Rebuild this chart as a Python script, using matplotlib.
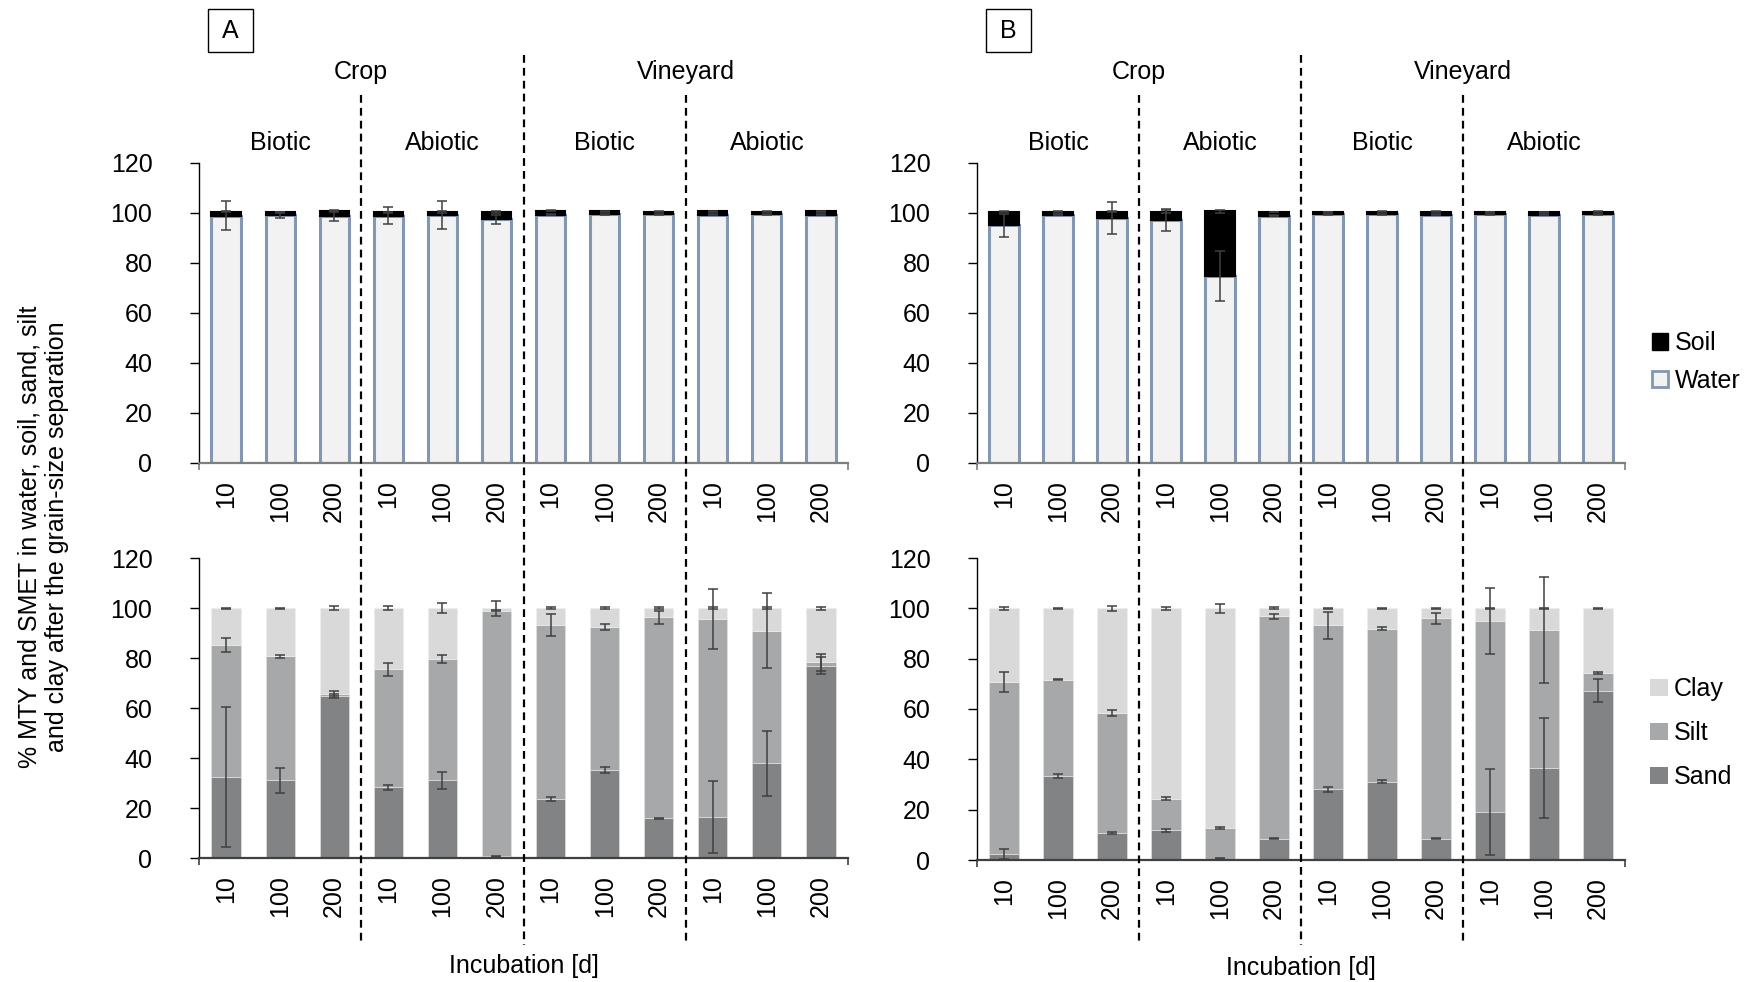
import numpy as np
import matplotlib.pyplot as plt
from matplotlib.lines import Line2D
from matplotlib.patches import Patch, Rectangle
from matplotlib import transforms

plt.rcParams['font.family'] = ['Liberation Sans', 'DejaVu Sans']

days = ['10', '100', '200'] * 4
sites = ['Crop', 'Vineyard']
treatments = ['Biotic', 'Abiotic', 'Biotic', 'Abiotic']

# A - water / soil (%)
a_water = [99.0, 99.3, 99.0, 99.0, 99.2, 97.6, 99.4, 99.5, 99.5, 99.4, 99.5, 99.4]
a_soil = [1.6, 1.0, 1.8, 1.3, 1.3, 2.8, 1.4, 1.3, 1.0, 1.3, 1.0, 1.3]
a_water_err = [5.8, 1.2, 2.0, 3.3, 5.6, 1.8, 0.2, 0.2, 0.2, 0.2, 0.2, 0.2]
a_soil_err = [0.3, 0.2, 0.3, 0.3, 0.3, 0.3, 0.2, 0.2, 0.2, 0.2, 0.2, 0.2]

# B - water / soil (%)
b_water = [95.1, 99.4, 98.0, 97.3, 74.7, 99.0, 99.5, 99.5, 99.3, 99.5, 99.4, 99.5]
b_soil = [5.5, 1.2, 2.5, 3.3, 26.0, 1.4, 1.0, 1.1, 1.3, 1.0, 1.1, 1.1]
b_water_err = [4.5, 0.3, 6.5, 4.5, 10.0, 0.3, 0.2, 0.2, 0.2, 0.3, 0.2, 0.2]
b_soil_err = [0.2, 0.1, 0.2, 0.6, 0.6, 0.1, 0.1, 0.1, 0.1, 0.1, 0.1, 0.1]

# A - grain size fractions (%)
a_sand = [32.4, 31.1, 64.8, 28.3, 31.1, 0.8, 23.6, 35.3, 15.9, 16.5, 38.0, 77.0]
a_silt = [52.9, 49.6, 1.0, 47.2, 48.6, 98.2, 69.7, 57.1, 80.4, 79.1, 53.0, 1.3]
a_clay = [14.7, 19.3, 34.2, 24.5, 20.3, 1.0, 6.7, 7.6, 3.7, 4.4, 9.0, 21.7]
a_sand_err = [27.9, 5.0, 0.8, 1.0, 3.3, 0.2, 0.8, 1.2, 0.2, 14.5, 13.0, 3.4]
a_silt_err = [2.7, 0.5, 1.0, 2.5, 1.7, 0.3, 4.3, 1.3, 2.5, 12.0, 15.0, 3.5]
a_clay_err = [0.2, 0.2, 0.9, 0.8, 1.9, 3.0, 0.3, 0.5, 0.5, 0.3, 0.3, 0.6]

# B - grain size fractions (%)
b_sand = [2.5, 33.3, 10.8, 11.8, 0.5, 8.5, 28.2, 31.1, 8.5, 19.0, 36.5, 67.3]
b_silt = [68.2, 38.4, 47.7, 12.5, 12.2, 88.4, 65.0, 60.8, 87.5, 76.0, 55.0, 7.1]
b_clay = [29.3, 28.3, 41.5, 75.7, 87.3, 3.1, 6.8, 8.1, 4.0, 5.0, 8.5, 25.6]
b_sand_err = [2.0, 0.7, 0.3, 0.6, 0.3, 0.2, 1.0, 0.5, 0.2, 17.0, 20.0, 4.6]
b_silt_err = [4.0, 0.3, 1.3, 0.6, 0.3, 1.0, 5.4, 0.5, 2.2, 13.0, 21.0, 0.5]
b_clay_err = [0.7, 0.2, 1.0, 0.5, 1.8, 0.4, 0.3, 0.3, 0.3, 0.2, 0.2, 0.3]

WATER_FILL = '#F2F2F2'
WATER_EDGE = '#8497B0'
CLAY = '#D9D9D9'
SILT = '#A6A8AA'
SAND = '#828384'
ERR = '#404040'
FS = 18

W, H = 1754, 982
fig = plt.figure(figsize=(W / 100, H / 100), dpi=100)


def box(x0, x1, y_top, y_bot):
    return [x0 / W, 1 - y_bot / H, (x1 - x0) / W, (y_bot - y_top) / H]


def style(ax, bottom_color):
    ax.set_xlim(-0.5, 11.5)
    ax.set_ylim(0, 120)
    ax.set_yticks(range(0, 121, 20))
    ax.tick_params(axis='y', labelsize=FS, length=6.5, width=1, direction='out', pad=27)
    ax.set_xticks(np.arange(12))
    ax.set_xticklabels(days, rotation=90, fontsize=FS)
    ax.tick_params(axis='x', which='major', length=0, pad=12)
    ax.set_xticks([-0.5, 11.5], minor=True)
    ax.tick_params(axis='x', which='minor', length=5, width=1.2, color=bottom_color)
    for s in ['top', 'right']:
        ax.spines[s].set_visible(False)
    ax.spines['left'].set_color('black')
    ax.spines['left'].set_linewidth(1)
    ax.spines['bottom'].set_color(bottom_color)
    ax.spines['bottom'].set_linewidth(1.6)


def draw_top(ax, water, soil, water_err, soil_err):
    x = np.arange(12)
    ax.bar(x, water, width=0.54, color=WATER_FILL, edgecolor=WATER_EDGE, linewidth=2.2)
    ax.bar(x, soil, bottom=water, width=0.54, color='black', edgecolor='black', linewidth=1.5)
    ax.errorbar(x, water, yerr=water_err, fmt='none', ecolor=ERR, elinewidth=1.1,
                capsize=3.5, capthick=1.1)
    ax.errorbar(x, np.add(water, soil), yerr=soil_err, fmt='none', ecolor=ERR,
                elinewidth=1.1, capsize=3.5, capthick=1.1)
    style(ax, '#7F7F7F')


def draw_bottom(ax, sand, silt, clay, sand_err, silt_err, clay_err):
    x = np.arange(12)
    top_silt = np.add(sand, silt)
    ax.bar(x, sand, width=0.54, color=SAND, edgecolor='#E0E0E0', linewidth=0.5)
    ax.bar(x, silt, bottom=sand, width=0.54, color=SILT, edgecolor='#E0E0E0', linewidth=0.5)
    ax.bar(x, clay, bottom=top_silt, width=0.54, color=CLAY, edgecolor='#EEEEEE', linewidth=0.5)
    for y, e in [(sand, sand_err), (top_silt, silt_err), (top_silt + np.array(clay), clay_err)]:
        ax.errorbar(x, y, yerr=e, fmt='none', ecolor=ERR, elinewidth=1.1,
                    capsize=3.5, capthick=1.1)
    style(ax, '#404040')


ax_a_top = fig.add_axes(box(199, 848, 163, 463))
ax_a_bot = fig.add_axes(box(199, 848, 558, 858))
ax_b_top = fig.add_axes(box(977, 1625, 163, 463))
ax_b_bot = fig.add_axes(box(977, 1625, 558, 860))

draw_top(ax_a_top, a_water, a_soil, a_water_err, a_soil_err)
draw_top(ax_b_top, b_water, b_soil, b_water_err, b_soil_err)
draw_bottom(ax_a_bot, a_sand, a_silt, a_clay, a_sand_err, a_silt_err, a_clay_err)
draw_bottom(ax_b_bot, b_sand, b_silt, b_clay, b_sand_err, b_silt_err, b_clay_err)

# group separators and headers
for ax_top, ax_bot, tag in [(ax_a_top, ax_a_bot, 'A'), (ax_b_top, ax_b_bot, 'B')]:
    tr = transforms.blended_transform_factory(ax_top.transData, fig.transFigure)
    for xs, y0 in [(2.5, 95), (5.5, 55), (8.5, 95)]:
        fig.add_artist(Line2D([xs, xs], [1 - y0 / H, 1 - 945 / H], transform=tr,
                              color='black', lw=1.6, ls=(0, (3.5, 2.3))))
    for xs, name in zip([2.5, 8.5], sites):
        fig.text(xs, 1 - 72 / H, name, transform=tr, ha='center', va='center', fontsize=FS)
    for xs, name in zip([1, 4, 7, 10], treatments):
        fig.text(xs, 1 - 143 / H, name, transform=tr, ha='center', va='center', fontsize=FS)
    ax_bot.set_xlabel('Incubation [d]', fontsize=FS, labelpad=27)
    x0 = ax_top.get_position().x0 + 9 / W
    fig.add_artist(Rectangle((x0, 1 - 52 / H), 45 / W, 43 / H, transform=fig.transFigure,
                             facecolor='white', edgecolor='black', lw=1))
    fig.text(x0 + 22.5 / W, 1 - 30.5 / H, tag, ha='center', va='center', fontsize=FS)

fig.text(0.0248, 0.453,
         '% MTY and SMET in water, soil, sand, silt\nand clay after the grain-size separation',
         rotation=90, ha='center', va='center', fontsize=FS, multialignment='center')

fig.legend(handles=[Patch(facecolor='black', edgecolor='black'),
                    Patch(facecolor=WATER_FILL, edgecolor=WATER_EDGE, linewidth=2)],
           labels=['Soil', 'Water'], loc='center left', bbox_to_anchor=(1652 / W, 1 - 362 / H),
           frameon=False, fontsize=FS, handlelength=0.65, handleheight=0.65,
           handletextpad=0.25, labelspacing=0.55, borderpad=0, borderaxespad=0)
fig.legend(handles=[Patch(facecolor=CLAY), Patch(facecolor=SILT), Patch(facecolor=SAND)],
           labels=['Clay', 'Silt', 'Sand'], loc='center left', bbox_to_anchor=(1650 / W, 1 - 733 / H),
           frameon=False, fontsize=FS, handlelength=0.7, handleheight=0.7,
           handletextpad=0.25, labelspacing=0.8, borderpad=0, borderaxespad=0)

fig.savefig('out.png', dpi=100)
